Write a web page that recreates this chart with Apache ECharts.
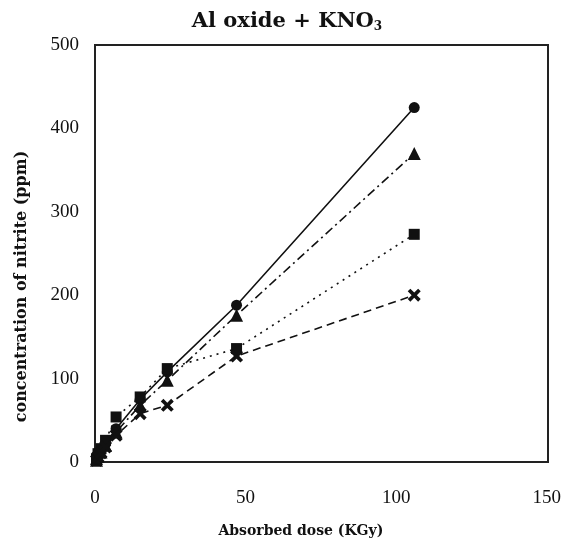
<!DOCTYPE html>
<html>
<head>
<meta charset="utf-8">
<script src="https://cdn.jsdelivr.net/npm/echarts@6/dist/echarts.min.js"></script>
<style>
  html, body { margin: 0; padding: 0; background: #fff; }
  #main { width: 564px; height: 557px; }
</style>
</head>
<body>
<div id="main"></div>
<script>
// ***** data *****
var doses = [0.5, 1, 2, 3.5, 7, 15, 24, 47, 106];
var circleVals = [3, 8, 14, 22, 40, 75, 108, 188, 425];
var triangleVals = [2, 7, 12, 20, 36, 68, 98, 176, 370];
var squareVals = [4, 10, 16, 26, 54, 78, 112, 136, 273];
var crossVals = [2, 6, 11, 18, 32, 58, 68, 127, 200];
var xTicks = [0, 50, 100, 150];
var yTicks = [0, 100, 200, 300, 400, 500];

var crossPath = 'path://M0,2L2,0L5,3L8,0L10,2L7,5L10,8L8,10L5,7L2,10L0,8L3,5Z';

function pairs(vals) {
  return doses.map(function (d, i) { return [d, vals[i]]; });
}

function makeSeries(vals, symbol, size, lineType) {
  return {
    type: 'line',
    data: pairs(vals),
    symbol: symbol,
    symbolSize: size,
    itemStyle: { color: '#111' },
    lineStyle: { color: '#111', width: 1.6, type: lineType },
    z: 3
  };
}

var chart = echarts.init(document.getElementById('main'));
var serif = '"Liberation Serif", "DejaVu Serif", serif';
var wideSerif = '"DejaVu Serif", serif';

var option = {
  animation: false,
  backgroundColor: '#fff',
  title: {
    text: 'Al oxide + KNO{sub|3}',
    left: 282,
    top: 6,
    textAlign: 'center',
    textStyle: {
      fontFamily: wideSerif,
      fontWeight: 'bold',
      fontSize: 21,
      color: '#111',
      rich: {
        sub: { fontFamily: wideSerif, fontWeight: 'bold', fontSize: 12, color: '#111', padding: [10, 0, 0, 0] }
      }
    }
  },
  grid: { left: 95, right: 16, top: 45, bottom: 95 },
  xAxis: {
    type: 'value',
    min: 0, max: 150, interval: 50,
    name: 'Absorbed dose (KGy)',
    nameLocation: 'middle',
    nameGap: 62,
    nameTextStyle: { fontFamily: wideSerif, fontWeight: 'bold', fontSize: 14, color: '#111', padding: [0, 40, 0, 0] },
    axisLine: { show: true, onZero: false, lineStyle: { color: '#222', width: 2 } },
    axisTick: { show: false },
    splitLine: { show: false },
    axisLabel: {
      fontFamily: serif, fontSize: 19, color: '#111', margin: 27,
      formatter: function (v) { return xTicks.indexOf(v) >= 0 ? String(v) : ''; }
    }
  },
  yAxis: {
    type: 'value',
    min: 0, max: 500, interval: 100,
    name: 'concentration of nitrite (ppm)',
    nameLocation: 'middle',
    nameGap: 65,
    nameTextStyle: { fontFamily: wideSerif, fontWeight: 'bold', fontSize: 16, color: '#111', padding: [0, 66, 0, 0] },
    axisLine: { show: true, lineStyle: { color: '#222', width: 2 } },
    axisTick: { show: false },
    splitLine: { show: false },
    axisLabel: {
      fontFamily: serif, fontSize: 19, color: '#111', margin: 16,
      formatter: function (v) { return yTicks.indexOf(v) >= 0 ? String(v) : ''; }
    }
  },
  graphic: [{
    type: 'rect',
    shape: { x: 95, y: 45, width: 453, height: 417 },
    style: { fill: 'none', stroke: '#222', lineWidth: 2 },
    z: 1
  }],
  series: [
    makeSeries(circleVals, 'circle', 11, 'solid'),
    makeSeries(triangleVals, 'triangle', 13, [9, 4, 2, 4]),
    makeSeries(squareVals, 'rect', 11, [2, 5]),
    makeSeries(crossVals, crossPath, 13, [8, 5])
  ]
};

chart.setOption(option);
</script>
</body>
</html>
